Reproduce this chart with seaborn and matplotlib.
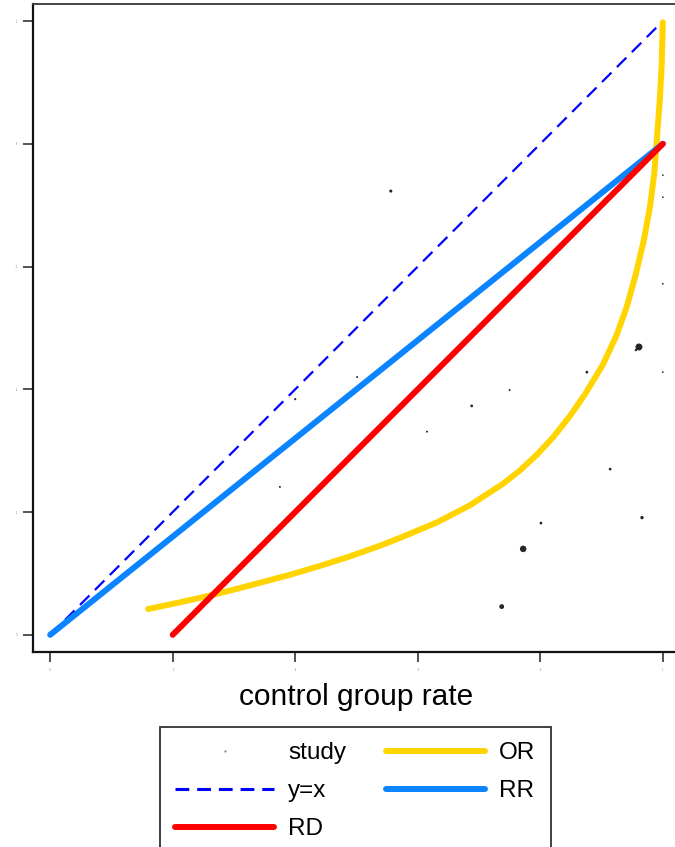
import matplotlib
matplotlib.use("Agg")
import matplotlib.pyplot as plt
from matplotlib.lines import Line2D
import seaborn as sns
import pandas as pd

# Individual studies: control-group rate, treatment-group rate, weight
study_control = [0.556, 0.501, 0.400, 0.750, 0.688, 0.615, 0.375, 0.801, 0.772,
                 0.737, 0.961, 0.956, 0.876, 1.000, 0.914, 0.966, 1.000, 1.000, 1.000]
study_treat = [0.723, 0.420, 0.384, 0.399, 0.373, 0.331, 0.241, 0.182, 0.140,
               0.046, 0.469, 0.464, 0.428, 0.428, 0.270, 0.191, 0.749, 0.713, 0.572]
study_weight = [5, 2, 2.5, 2, 4, 2, 2, 4, 22, 12, 25, 3, 4, 1.5, 4, 6, 1.5, 1.5, 1.5]

# Reference line y = x
ident_x = [0.0, 1.0]
ident_y = [0.0, 1.0]

# Pooled risk difference
rd_x = [0.2, 1.0]
rd_y = [0.0, 0.8]

# Pooled relative risk
rr_x = [0.0, 1.0]
rr_y = [0.0, 0.8]

# Pooled odds ratio curve
or_x = [0.160, 0.212, 0.261, 0.305, 0.347, 0.392, 0.436, 0.484, 0.538, 0.576,
        0.631, 0.685, 0.739, 0.767, 0.794, 0.821, 0.848, 0.873, 0.902, 0.924,
        0.941, 0.956, 0.969, 0.979, 0.986, 0.991, 0.995, 0.998, 1.000]
or_y = [0.042, 0.053, 0.064, 0.075, 0.086, 0.098, 0.111, 0.126, 0.145, 0.160,
        0.183, 0.211, 0.246, 0.268, 0.293, 0.322, 0.356, 0.392, 0.440, 0.487,
        0.534, 0.588, 0.643, 0.697, 0.752, 0.818, 0.871, 0.925, 0.998]

tick_vals = [0.0, 0.2, 0.4, 0.6, 0.8, 1.0]
tick_text = ["0", ".2", ".4", ".6", ".8", "1"]

sns.set_style("white")
plt.rcParams["font.family"] = ["Liberation Sans", "DejaVu Sans"]

W, H = 675, 847
fig = plt.figure(figsize=(W / 100, H / 100), dpi=100)
ax = fig.add_axes([33 / W, (H - 652) / H, 647 / W, 647.5 / H])

studies = pd.DataFrame({"control": study_control, "treat": study_treat,
                        "w": study_weight})
sns.scatterplot(data=studies, x="control", y="treat", size="w",
                sizes=(1.5, 25), size_norm=(1.5, 25), color="#000000",
                alpha=0.85, edgecolor="none", legend=False, ax=ax, zorder=2)

sns.lineplot(x=ident_x, y=ident_y, color="#0000FF", lw=1.6,
             linestyle=(0, (6, 3.5)), ax=ax, zorder=3)
sns.lineplot(x=or_x, y=or_y, color="#FFD400", lw=4.3, ax=ax, zorder=4,
             sort=False)
sns.lineplot(x=rr_x, y=rr_y, color="#0A84FF", lw=4.3, ax=ax, zorder=5)
sns.lineplot(x=rd_x, y=rd_y, color="#FF0000", lw=4.3, ax=ax, zorder=6)

ax.set_xlim(-0.028, 1.028)
ax.set_ylim(-0.028, 1.027)
ax.set_xticks(tick_vals)
ax.set_xticklabels(tick_text)
ax.set_yticks(tick_vals)
ax.set_yticklabels(tick_text)
ax.tick_params(axis="both", which="major", direction="out", length=7.5,
               width=1.1, color="#222222", labelsize=2, labelcolor="#888888",
               left=True, bottom=True, pad=4)
for side in ["left", "bottom"]:
    ax.spines[side].set_color("#111111")
    ax.spines[side].set_linewidth(1.6)
ax.spines["top"].set_color("#444444")
ax.spines["top"].set_linewidth(1.4)
ax.spines["right"].set_visible(False)

ax.set_ylabel("")
ax.set_xlabel("control group rate", fontsize=21.5, labelpad=8, color="#000000")

handles = [
    Line2D([], [], ls="", marker="o", markersize=1.6, color="#888888",
           markeredgewidth=0),
    Line2D([], [], color="#0000FF", lw=2.2, linestyle=(0, (4.5, 2.6))),
    Line2D([], [], color="#FF0000", lw=4.3),
    Line2D([], [], color="#FFD400", lw=4.3),
    Line2D([], [], color="#0A84FF", lw=4.3),
]
labels = ["study", "y=x", "RD", "OR", "RR"]
leg = fig.legend(handles, labels, ncol=2, loc="upper left",
                 bbox_to_anchor=(160 / W, 1 - 727 / H), borderaxespad=0,
                 fontsize=17.5, handlelength=4.07, handletextpad=0.58,
                 columnspacing=1.65, borderpad=0.62, labelspacing=0.66,
                 frameon=True, fancybox=False, edgecolor="#333333",
                 framealpha=1, labelcolor="#000000")
leg.get_frame().set_linewidth(1.3)

fig.savefig("out.png", dpi=100)
